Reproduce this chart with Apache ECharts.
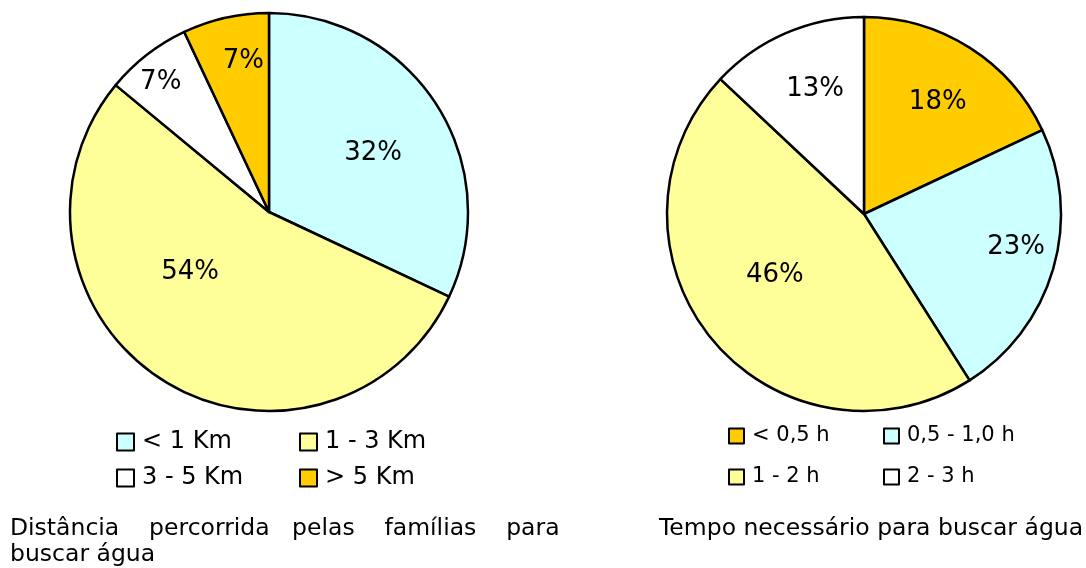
<!DOCTYPE html>
<html>
<head>
<meta charset="utf-8">
<script src="https://cdn.jsdelivr.net/npm/echarts@6/dist/echarts.min.js"></script>
<style>
  html, body { margin: 0; padding: 0; background: #fff; }
  #chart { width: 1086px; height: 568px; }
</style>
</head>
<body>
<div id="chart"></div>
<script>
  // distância percorrida pelas famílias (%)
  const distCategories = ['< 1 Km', '1 - 3 Km', '3 - 5 Km', '> 5 Km']
  const distValues = [32, 54, 7, 7]
  // tempo necessário para buscar água (%)
  const timeCategories = ['< 0,5 h', '0,5 - 1,0 h', '1 - 2 h', '2 - 3 h']
  const timeValues = [18, 23, 46, 13]

  const distColors = ['#ccffff', '#ffff99', '#ffffff', '#ffcc00']
  const timeColors = ['#ffcc00', '#ccffff', '#ffff99', '#ffffff']

  const font = 'DejaVu Sans'
  const distCenter = [269, 212], distRadius = 199
  const timeCenter = [864, 214], timeRadius = 197

  // onde o Excel deixou cada rótulo: fração do raio e desvio angular (graus)
  const distLabelR = [0.6, 0.5, 0.85, 0.77]
  const distLabelTurn = [3, 20, -2, 3]
  const timeLabelR = [0.68, 0.79, 0.55, 0.68]
  const timeLabelTurn = [1, -4, 5, 2]

  function placeLabels(center, radius, rFactor, turn) {
    return function (p) {
      const r = p.labelRect
      const dx = r.x + r.width / 2 - center[0]
      const dy = r.y + r.height / 2 - center[1]
      const a = Math.atan2(dx, -dy) + turn[p.dataIndex] * Math.PI / 180
      const d = radius * rFactor[p.dataIndex]
      return {
        x: center[0] + d * Math.sin(a),
        y: center[1] - d * Math.cos(a),
        align: 'center',
        verticalAlign: 'middle'
      }
    }
  }

  function pieSeries(names, values, colors, center, radius, labelR, labelTurn) {
    return {
      type: 'pie',
      center: center,
      radius: [0, radius],
      startAngle: 90,
      clockwise: true,
      silent: true,
      data: names.map((n, i) => ({ name: n, value: values[i], itemStyle: { color: colors[i] } })),
      itemStyle: { borderColor: '#000', borderWidth: 2.5 },
      label: {
        position: 'inside',
        formatter: '{c}%',
        color: '#000',
        fontFamily: font,
        fontSize: 26
      },
      labelLine: { show: false },
      labelLayout: placeLabels(center, radius, labelR, labelTurn)
    }
  }

  function legendCol(names, left, top, size, fontSize, lineHeight, gap) {
    return {
      orient: 'vertical',
      left: left,
      top: top,
      padding: 0,
      data: names,
      selectedMode: false,
      icon: 'rect',
      itemWidth: size,
      itemHeight: size,
      itemGap: gap,
      itemStyle: { borderColor: '#000', borderWidth: 2 },
      textStyle: { fontFamily: font, fontSize: fontSize, lineHeight: lineHeight, color: '#000', padding: [0, 0, 0, 3] }
    }
  }

  const captionStyle = { fontFamily: font, fontSize: 23.5, fontWeight: 'normal', lineHeight: 26, color: '#000' }

  const chart = echarts.init(document.getElementById('chart'))
  chart.setOption({
    animation: false,
    backgroundColor: '#fff',
    title: [
      {
        // texto justificado como no original
        text: 'Distância    percorrida   pelas    famílias    para\nbuscar água',
        left: 10,
        top: 516,
        padding: 0,
        textStyle: captionStyle
      },
      {
        text: 'Tempo necessário para buscar água',
        left: 659,
        top: 516,
        padding: 0,
        textStyle: captionStyle
      }
    ],
    legend: [
      legendCol([distCategories[0], distCategories[2]], 116, 429, 17, 24, 26, 10),
      legendCol([distCategories[1], distCategories[3]], 299, 429, 17, 24, 26, 10),
      legendCol([timeCategories[0], timeCategories[2]], 728, 424, 15, 21, 24, 17),
      legendCol([timeCategories[1], timeCategories[3]], 883, 424, 15, 21, 24, 17)
    ],
    series: [
      pieSeries(distCategories, distValues, distColors, distCenter, distRadius, distLabelR, distLabelTurn),
      pieSeries(timeCategories, timeValues, timeColors, timeCenter, timeRadius, timeLabelR, timeLabelTurn)
    ]
  })
</script>
</body>
</html>
